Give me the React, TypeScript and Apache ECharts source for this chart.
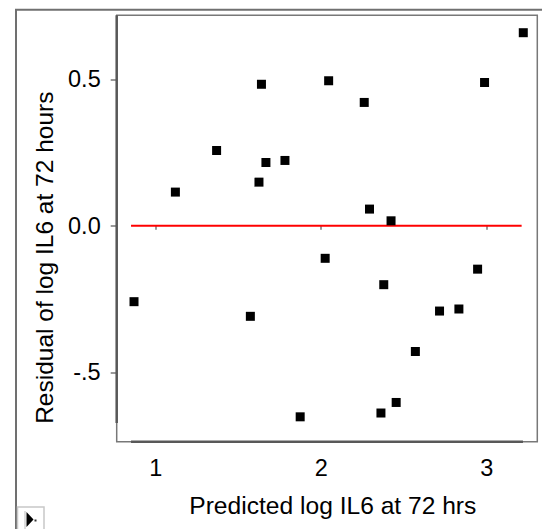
import React, { useEffect, useRef } from "react";
import * as echarts from "echarts";

// Data
const predicted = [0.869, 1.119, 1.368, 1.624, 1.639, 1.666, 1.781, 1.572, 1.873, 2.024, 2.045, 2.26, 2.292, 2.422, 2.378, 2.453, 2.361, 2.569, 2.715, 2.832, 2.945, 2.987, 3.221];
const residual = [-0.259, 0.115, 0.257, 0.149, 0.483, 0.216, 0.223, -0.309, -0.652, -0.111, 0.495, 0.421, 0.057, 0.017, -0.201, -0.603, -0.639, -0.429, -0.291, -0.284, -0.148, 0.489, 0.659];

// Reference line at zero, spanning predicted range
const refLineX = [0.851, 3.211];
const refLineY = [0, 0];

// Axis ranges and ticks
const xRange = [0.7644, 3.3057];
const yRange = [-0.7369, 0.7184];
const xTicks = [1, 2, 3];
const xTickLabels = ["1", "2", "3"];
const yTicks = [-0.5, 0, 0.5];
const yTickLabels = ["-.5", "0.0", "0.5"];
// Range-frame segments (darker axis lines)
const xFrameRange = [0.851, 3.219];
const yFrameRange = [-0.673, 0.7184];

const xTitle = "Predicted log IL6 at 72 hrs";
const yTitle = "Residual of log IL6 at 72 hours";

const FONT = "Liberation Sans";

export default function App() {
  const ref = useRef<HTMLDivElement>(null);
  useEffect(() => {
    if (!ref.current) return;
    const chart = echarts.init(ref.current, undefined, { renderer: "svg" });
    const points = predicted.map((x, i) => [x, residual[i]]);
    chart.setOption({
      animation: false,
      backgroundColor: "#ffffff",
      textStyle: { fontFamily: FONT },
      grid: {
        left: 116.7,
        top: 15.3,
        right: 4.7,
        bottom: 87.3,
        show: true,
        borderColor: "#787878",
        borderWidth: 1.5,
        backgroundColor: "transparent",
      },
      xAxis: {
        type: "value",
        min: xRange[0],
        max: xRange[1],
        axisLine: { show: false },
        splitLine: { show: false },
        axisTick: { show: true, customValues: xTicks, length: 4, lineStyle: { color: "#777", width: 1.5 } },
        axisLabel: {
          show: true,
          customValues: xTicks,
          margin: 14,
          fontSize: 23.5,
          fontFamily: FONT,
          color: "#000",
          formatter: (v: number) => xTickLabels[xTicks.indexOf(v)] ?? String(v),
        },
      },
      yAxis: {
        type: "value",
        min: yRange[0],
        max: yRange[1],
        axisLine: { show: false },
        splitLine: { show: false },
        axisTick: { show: true, customValues: yTicks, length: 6, lineStyle: { color: "#777", width: 1.5 } },
        axisLabel: {
          show: true,
          customValues: yTicks,
          margin: 16,
          fontSize: 23.5,
          fontFamily: FONT,
          color: "#000",
          padding: [9, 0, 0, 0],
          formatter: (v: number) => {
            const idx = yTicks.findIndex((t) => Math.abs(t - v) < 1e-9);
            return idx >= 0 ? yTickLabels[idx] : String(v);
          },
        },
      },
      graphic: [
        {
          type: "rect",
          shape: { x: 16, y: 9.7, width: 600, height: 600 },
          style: { fill: "none", stroke: "#707070", lineWidth: 2 },
          silent: true,
          z: -1,
        },
        {
          type: "text",
          x: 44.2,
          y: 257.7,
          rotation: Math.PI / 2,
          style: {
            text: yTitle,
            align: "center",
            verticalAlign: "middle",
            font: `24.5px ${FONT}`,
            fill: "#000",
          },
        },
        {
          type: "text",
          x: 332.8,
          y: 505.3,
          style: {
            text: xTitle,
            align: "center",
            verticalAlign: "middle",
            font: `24.6px ${FONT}`,
            fill: "#000",
          },
        },
        {
          type: "group",
          children: [
            {
              type: "rect",
              shape: { x: 17.5, y: 507, width: 26.5, height: 26 },
              style: { fill: "#ffffff", stroke: "#c8c8c8", lineWidth: 1.5 },
            },
            {
              type: "line",
              shape: { x1: 25, y1: 511, x2: 25, y2: 529 },
              style: { stroke: "#bbbbbb", lineWidth: 1 },
            },
            {
              type: "polygon",
              shape: { points: [[26.5, 512], [33.5, 519.5], [26.5, 527]] },
              style: { fill: "#000" },
            },
            {
              type: "rect",
              shape: { x: 34.5, y: 519.5, width: 2, height: 2 },
              style: { fill: "#333" },
            },
          ],
        },
      ],
      series: [
        {
          type: "line",
          data: [
            [xFrameRange[0], yRange[0]],
            [xFrameRange[1], yRange[0]],
          ],
          symbol: "none",
          clip: false,
          lineStyle: { color: "#585858", width: 2.5 },
          silent: true,
          z: 3,
        },
        {
          type: "line",
          data: [
            [xRange[0], yFrameRange[0]],
            [xRange[0], yFrameRange[1]],
          ],
          symbol: "none",
          clip: false,
          lineStyle: { color: "#585858", width: 2.5 },
          silent: true,
          z: 3,
        },
        {
          type: "line",
          data: refLineX.map((x, i) => [x, refLineY[i]]),
          symbol: "none",
          lineStyle: { color: "#ff0000", width: 2 },
          silent: true,
          z: 4,
        },
        {
          type: "scatter",
          data: points,
          symbol: "rect",
          symbolSize: 9,
          itemStyle: { color: "#000000", opacity: 1 },
          z: 5,
        },
      ],
    });
    return () => chart.dispose();
  }, []);
  return (
    <div
      ref={ref}
      style={{ position: "absolute", left: 0, top: 0, width: 542, height: 529 }}
    />
  );
}
